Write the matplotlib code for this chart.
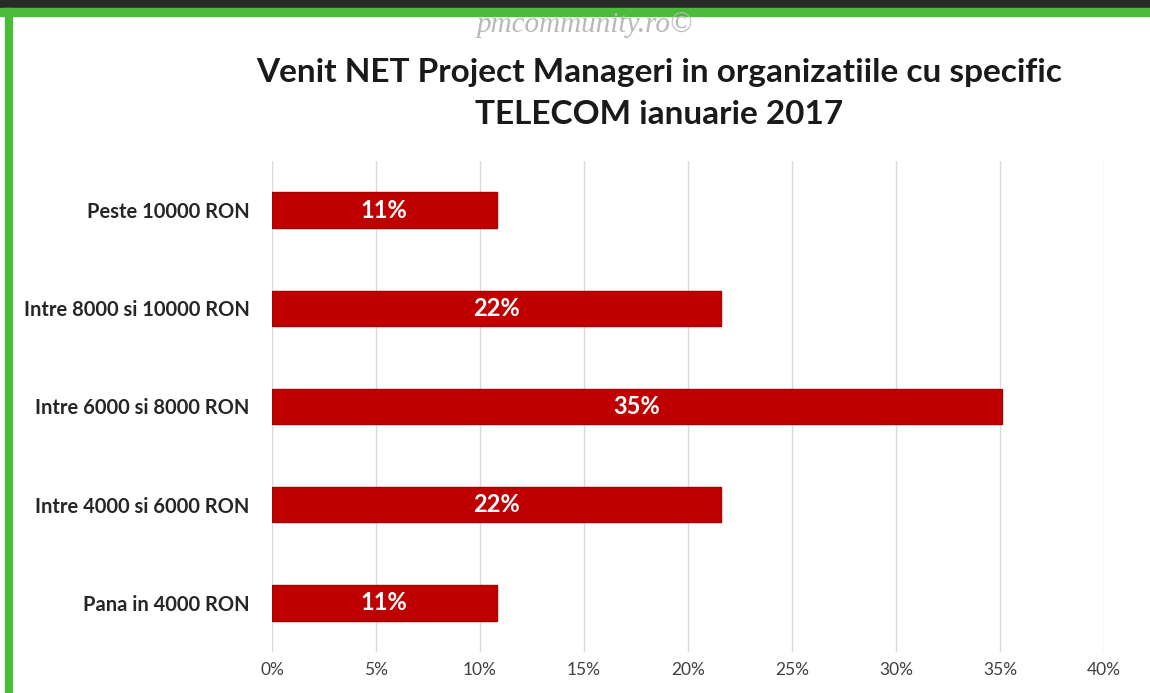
import matplotlib.pyplot as plt
from matplotlib.patches import Rectangle

# data (~n/37 respondents)
categories = ["Pana in 4000 RON", "Intre 4000 si 6000 RON", "Intre 6000 si 8000 RON",
              "Intre 8000 si 10000 RON", "Peste 10000 RON"]
values = [10.8, 21.6, 35.1, 21.6, 10.8]
bar_labels = ["11%", "22%", "35%", "22%", "11%"]
ticks = [0, 5, 10, 15, 20, 25, 30, 35, 40]
tick_labels = ["0%", "5%", "10%", "15%", "20%", "25%", "30%", "35%", "40%"]

W, H = 1150, 693
fig = plt.figure(figsize=(W / 100, H / 100), dpi=100)
fig.patch.set_facecolor("white")

# frame: dark strip on top, green border left and top
fig.patches.append(Rectangle((0, 1 - 8 / H), 1, 8 / H, transform=fig.transFigure,
                             color="#2a2a2a", zorder=0))
fig.patches.append(Rectangle((0, 1 - 16 / H), 1, 8 / H, transform=fig.transFigure,
                             color="#4cbb3c", zorder=0))
fig.patches.append(Rectangle((5 / W, 0), 7 / W, 1 - 8 / H, transform=fig.transFigure,
                             color="#4cbb3c", zorder=0))

ax = fig.add_axes([272 / W, 1 - 652 / H, (1104 - 272) / W, (652 - 161) / H])
y = list(range(len(categories)))
ax.barh(y, values, height=0.36, color="#c00000", edgecolor="#a30000", linewidth=1, zorder=3)

for yi, v, lab in zip(y, values, bar_labels):
    ax.text(v / 2, yi, lab, ha="center", va="center", color="white",
            fontsize=17, fontweight="bold", family="Lato", zorder=4)

ax.set_xlim(0, 40)
ax.set_ylim(-0.5, len(categories) - 0.5)
ax.set_xticks(ticks)
ax.set_xticklabels(tick_labels, family="Lato", fontsize=12.5, color="#404040")
ax.set_yticks(y)
ax.set_yticklabels(categories, family="Lato", fontsize=14.5, fontweight="bold", color="#262626")
ax.tick_params(axis="both", length=0)
ax.tick_params(axis="x", pad=7)
ax.tick_params(axis="y", pad=16)
ax.grid(axis="x", color="#d9d9d9", linewidth=1, zorder=0)
for s in ax.spines.values():
    s.set_visible(False)

fig.text(659 / W, 1 - 82 / H, "Venit NET Project Manageri in organizatiile cu specific",
         ha="center", va="baseline", fontsize=24, fontweight="bold", family="Lato", color="#1a1a1a")
fig.text(659 / W, 1 - 124 / H, "TELECOM ianuarie 2017",
         ha="center", va="baseline", fontsize=24, fontweight="bold", family="Lato", color="#1a1a1a")
fig.text(585 / W, 1 - 32 / H, "pmcommunity.ro©", ha="center", va="baseline",
         fontsize=21, style="italic", family="Liberation Serif", color="#b8b8b8")

fig.savefig("out.png", dpi=100)
